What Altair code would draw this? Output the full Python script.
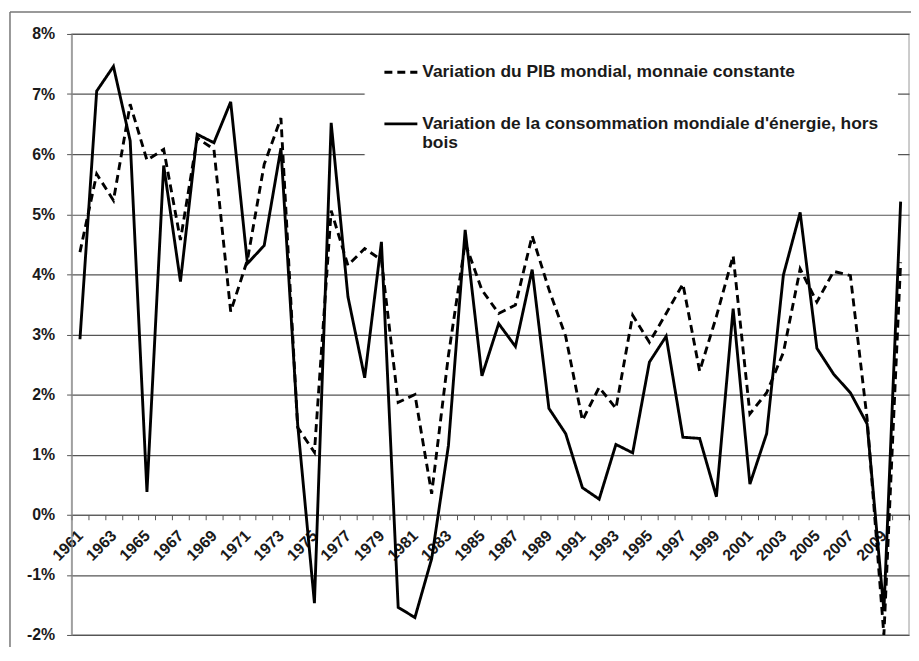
import altair as alt
import pandas as pd

years = list(range(1961, 2011))

pib = [4.37, 5.67, 5.23, 6.83, 5.90, 6.08, 4.57, 6.27, 6.08, 3.38,
       4.24, 5.83, 6.60, 1.45, 1.04, 5.06, 4.15, 4.43, 4.24, 1.87,
       2.00, 0.35, 2.65, 4.52, 3.74, 3.35, 3.49, 4.64, 3.75, 2.97,
       1.57, 2.12, 1.77, 3.32, 2.87, 3.35, 3.84, 2.39, 3.30, 4.31,
       1.68, 2.03, 2.70, 4.09, 3.54, 4.05, 3.98, 1.59, -2.00, 4.20]

energie = [2.92, 7.05, 7.46, 6.22, 0.38, 5.81, 3.88, 6.33, 6.19, 6.87,
           4.18, 4.48, 6.10, 1.50, -1.47, 6.52, 3.63, 2.28, 4.54, -1.54,
           -1.71, -0.73, 1.15, 4.74, 2.31, 3.18, 2.80, 4.08, 1.77, 1.35,
           0.45, 0.26, 1.17, 1.03, 2.54, 2.97, 1.29, 1.27, 0.30, 3.43,
           0.51, 1.35, 3.99, 5.03, 2.77, 2.34, 2.03, 1.51, -1.60, 5.21]

S_PIB = "Variation du PIB mondial, monnaie constante"
S_EN = "Variation de la consommation mondiale d'énergie, hors bois"

df = pd.DataFrame({
    "annee": [str(y) for y in years] * 2,
    "serie": [S_PIB] * len(years) + [S_EN] * len(years),
    "valeur": pib + energie,
})

FONT = "Liberation Sans"
W, H = 843, 605
Y_MIN, Y_MAX = -2, 8
x_axis_offset = -(H * (0 - Y_MIN) / (Y_MAX - Y_MIN))  # put the year axis on the 0% line

lines = alt.Chart(df).mark_line(color="#000", strokeWidth=2.9, clip=False).encode(
    x=alt.X(
        "annee:O",
        sort=None,
        bandPosition=0.5,
        scale=alt.Scale(type="band", paddingInner=0, paddingOuter=0),
        axis=alt.Axis(
            title=None, grid=False, tickBand="extent", offset=x_axis_offset,
            labelAngle=-45, labelAlign="right", labelBaseline="middle",
            labelExpr="toNumber(datum.value) % 2 == 1 ? datum.label : ''",
            labelOverlap=False, labelPadding=13, tickSize=5,
            domainColor="#555", tickColor="#555", domainWidth=1.2,
            labelFont=FONT, labelFontSize=16, labelFontWeight="bold",
            labelColor="#1a1a1a",
        ),
    ),
    y=alt.Y(
        "valeur:Q",
        scale=alt.Scale(domain=[Y_MIN, Y_MAX], nice=False, zero=False),
        axis=alt.Axis(
            title=None, values=list(range(Y_MIN, Y_MAX + 1)),
            labelExpr="datum.value + '%'",
            gridColor="#555", gridWidth=1.2, tickColor="#555", tickSize=5,
            domainColor="#888", domainWidth=1.2, labelPadding=12,
            labelFont=FONT, labelFontSize=16, labelFontWeight="bold",
            labelColor="#1a1a1a",
        ),
    ),
    strokeDash=alt.StrokeDash(
        "serie:N",
        scale=alt.Scale(domain=[S_PIB, S_EN], range=[[8, 5], [1, 0]]),
        legend=alt.Legend(
            title=None, orient="none", legendX=295, legendY=2,
            padding=18, fillColor="white", strokeColor="white",
            symbolType="stroke", symbolSize=1100, symbolStrokeWidth=2.9,
            symbolStrokeColor="#000", labelOffset=3,
            labelFont=FONT, labelFontSize=17.5, labelFontWeight="bold",
            labelColor="#1a1a1a", labelLimit=800, rowPadding=25,
            labelExpr="length(datum.label) > 50 ? [substring(datum.label, 0, length(datum.label) - 5), 'bois'] : datum.label",
        ),
    ),
)

frame = pd.DataFrame({"k": [0]})
frame_top = alt.Chart(frame).mark_rule(color="#777", strokeWidth=1.5).encode(
    x=alt.value(-62), x2=alt.value(W + 4), y=alt.value(-22)
)
frame_left = alt.Chart(frame).mark_rule(color="#777", strokeWidth=1.5).encode(
    x=alt.value(-62), y=alt.value(-22), y2=alt.value(H + 12)
)

chart = alt.layer(frame_top, frame_left, lines).properties(
    width=W, height=H,
    autosize=alt.AutoSizeParams(type="none"),
    padding={"left": 64, "top": 24, "right": 2, "bottom": 12},
).configure_view(stroke="#bbb", strokeWidth=1.5)

chart.save("out.html", embed_options={"renderer": "svg", "actions": False})
